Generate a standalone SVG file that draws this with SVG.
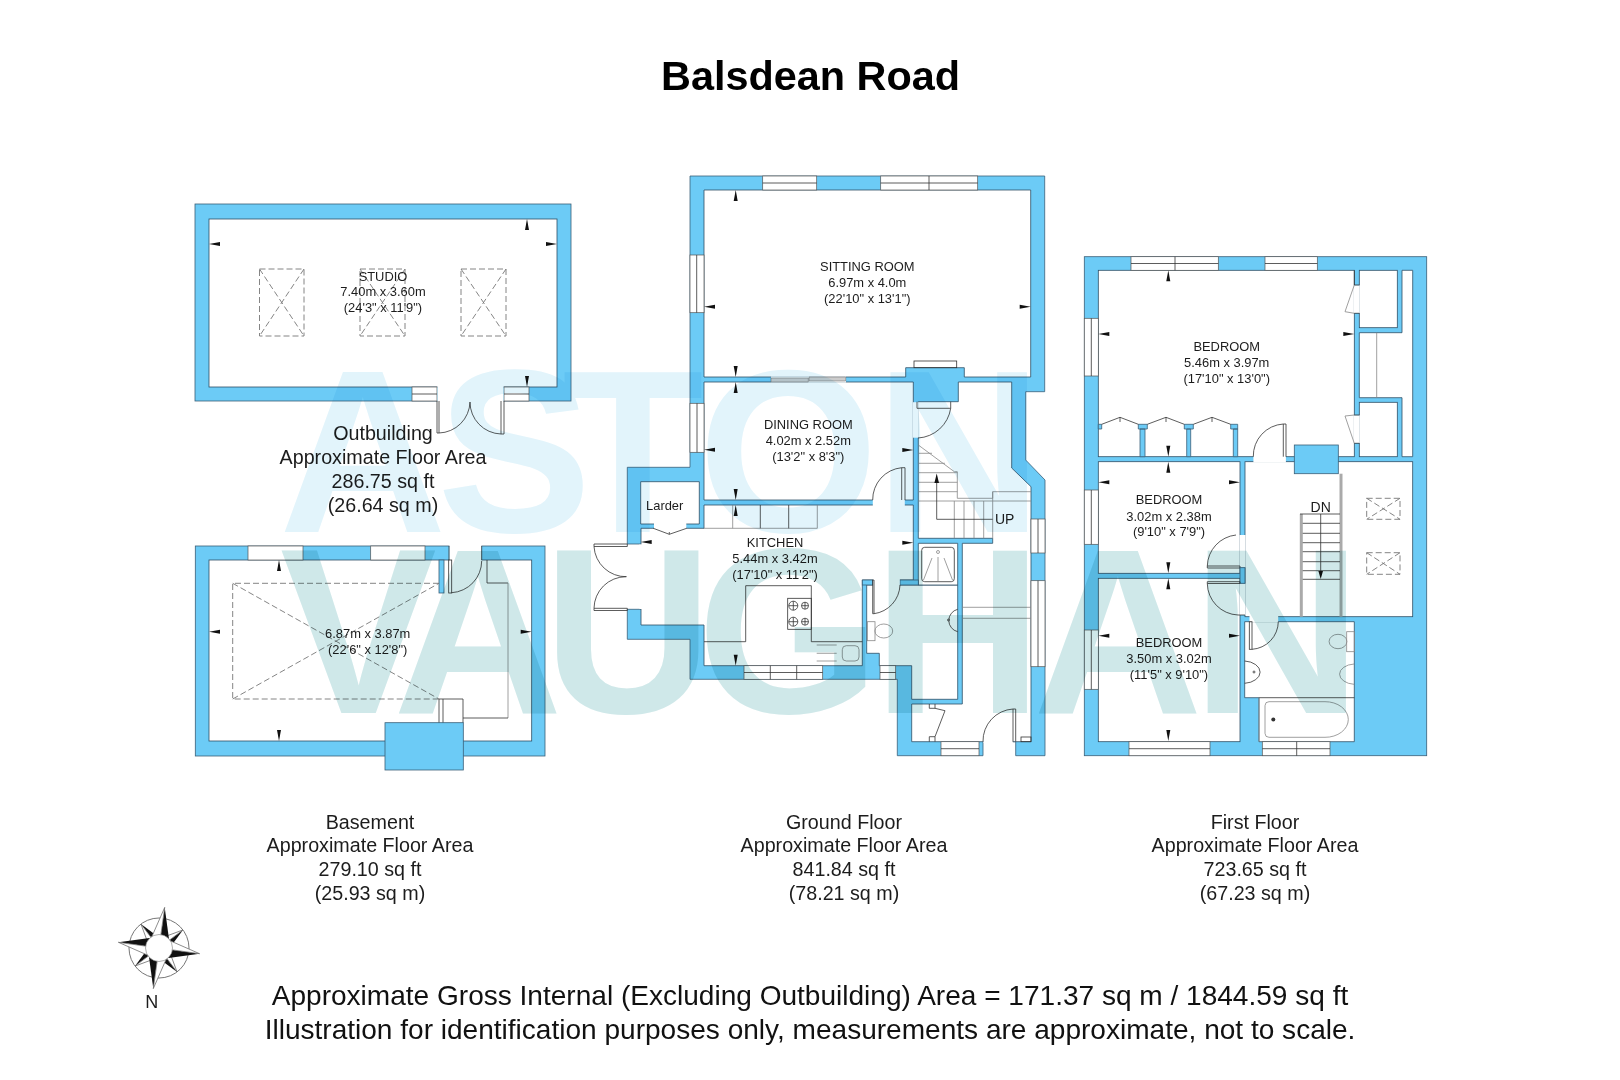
<svg xmlns="http://www.w3.org/2000/svg" width="1620" height="1080" viewBox="0 0 1620 1080">
<style>
text{font-family:"Liberation Sans",Arial,sans-serif;fill:#1c1c1c}
.wm{font-weight:bold;mix-blend-mode:multiply}
.w{fill:#6ccbf6;stroke:#3a5f78;stroke-width:.8}
.r{fill:#fff;stroke:#2f4f66;stroke-width:.8}
.o{fill:#fff;stroke:none}
.l{fill:none;stroke:#333;stroke-width:.8}
.g{fill:none;stroke:#888;stroke-width:.8}
.gb{fill:none;stroke:#aaa;stroke-width:3}
.d{fill:none;stroke:#777;stroke-width:.9;stroke-dasharray:6 3}
.win{fill:#fff;stroke:#555;stroke-width:.7}
.rm{font-size:12.9px;text-anchor:middle}
.ar{font-size:19.7px;text-anchor:middle}
.ft{font-size:28.05px;text-anchor:middle;fill:#111}
</style>
<defs>
<path id="a" d="M0 0L11-2 11 2Z" fill="#111"/>
<g id="pt"><polygon points="0,-41 9,-9 0,0" fill="#111"/><polygon points="0,-41 -9,-9 0,0" fill="#fff" stroke="#666" stroke-width=".7"/></g>
<g id="ps"><polygon points="0,-30 6,-10 0,0" fill="#111"/><polygon points="0,-30 -6,-10 0,0" fill="#fff" stroke="#666" stroke-width=".7"/></g>
</defs>
<rect width="1620" height="1080" fill="#fff"/>

<g id="outbuilding">
<rect class="w" x="195" y="204" width="376" height="197"/>
<rect class="r" x="209" y="219" width="348" height="168"/>
<rect class="win" x="412" y="387" width="25" height="14"/><path class="l" d="M412 394H437"/>
<rect class="win" x="504" y="387" width="25" height="14"/><path class="l" d="M504 394H529"/>
<rect class="o" x="437.500" y="386" width="66" height="16"/>
<path class="l" d="M437 401V433H439V401M504 401V434H501V401"/>
<path class="l" d="M439 433A32 32 0 0 0 470 402M501 434A32 32 0 0 1 470 402"/>
<path class="d" d="M259.500 269H304V336H259.500ZM259.500 269L304 336M304 269L259.500 336"/><path class="d" d="M360 269H405V336H360ZM360 269L405 336M405 269L360 336"/><path class="d" d="M461 269H506V336H461ZM461 269L506 336M506 269L461 336"/>
<use href="#a" transform="translate(209 244)"/><use href="#a" transform="translate(557 244) rotate(180)"/><use href="#a" transform="translate(527 219) rotate(90)"/><use href="#a" transform="translate(527 387) rotate(-90)"/>
<text class="rm" x="383" y="280.500">STUDIO</text><text class="rm" x="383" y="296">7.40m x 3.60m</text><text class="rm" x="383" y="312">(24'3" x 11'9")</text>
<text class="ar" x="383" y="440">Outbuilding</text><text class="ar" x="383" y="463.500">Approximate Floor Area</text><text class="ar" x="383" y="487.500">286.75 sq ft</text><text class="ar" x="383" y="511.500">(26.64 sq m)</text>
</g>

<g id="basement">
<rect class="w" x="195.300" y="546" width="349.700" height="210"/>
<rect class="r" x="209" y="560" width="322.700" height="181"/>
<rect class="o" x="449.400" y="545" width="32" height="16"/>
<path class="l" d="M449 546V560M481.700 546V560"/>
<rect class="w" x="439" y="560" width="5" height="33"/>
<rect class="win" x="248" y="546" width="55" height="14"/><rect class="win" x="370.700" y="546" width="54.300" height="14"/>
<rect class="l" x="448.700" y="560" width="3" height="33"/>
<path class="l" d="M451.700 592.700A32 32 0 0 0 481.700 561"/>
<path class="l" d="M487 560V583H508"/><path class="g" d="M508 583V718"/><path class="l" d="M508 718H463"/>
<path class="d" d="M439 583.300H232.700V699H439M232.700 583.300L439 699M232.700 699L439 583.300"/>
<path class="l" d="M439 699V723M443 699V723M439 699H463V723"/>
<rect class="w" x="385" y="722.700" width="78.300" height="47.300"/>
<use href="#a" transform="translate(279 560) rotate(90)"/><use href="#a" transform="translate(279 741) rotate(-90)"/><use href="#a" transform="translate(209 631.700)"/><use href="#a" transform="translate(531.700 631.700) rotate(180)"/>
<text class="rm" x="367.700" y="637.500">6.87m x 3.87m</text><text class="rm" x="367.700" y="653.500">(22'6" x 12'8")</text>
<text class="ar" x="370" y="828.700">Basement</text><text class="ar" x="370" y="852.300">Approximate Floor Area</text><text class="ar" x="370" y="876.300">279.10 sq ft</text><text class="ar" x="370" y="899.700">(25.93 sq m)</text>
</g>

<g id="ground-floor">
<polygon class="w" points="690,176 1044.700,176 1044.700,391.700 1025.700,391.700 1025.700,460 1045,480 1045,755.700 1015.700,755.700 1015.700,741.700 983,741.700 983,755.700 897.300,755.700 897.300,679.300 690,679.300 690,639.300 627.300,639.300 627.300,609.300 641,609.300 641,544 627.300,544 627.300,467.300 690,467.300"/>
<polygon class="r" points="704,190 1030.700,190 1030.700,377 964.300,377 964.300,367.700 905.700,367.700 905.700,377 704,377"/>
<polygon class="r" points="704,382 913.300,382 913.300,500 704,500"/>
<polygon class="r" points="918.300,401.700 958.300,401.700 958.300,382 1011.700,382 1011.700,468 1031,486.700 1031,741.700 911.700,741.700 911.700,704 962.300,704 962.300,543.300 992.700,543.300 992.700,538.300 918.300,538.300"/>
<polygon class="r" points="704,505 913.300,505 913.300,580 862.300,580 862.300,665.700 704,665.700 704,625 641,625 641,528.300 704,528.300"/>
<polygon class="r" points="640.700,481.700 699.300,481.700 699.300,524 640.700,524"/>
<polygon class="r" points="866.700,585 957.700,585 957.700,699.300 911.700,699.300 911.700,665.700 879.300,665.700 879.300,653.300 866.700,653.300"/>
<polygon class="r" points="918.300,543.300 957.700,543.300 957.700,585 918.300,585"/>
<rect class="w" x="862.300" y="580" width="10.400" height="5"/><rect class="w" x="900" y="580" width="18.300" height="5"/>
<rect class="o" x="873" y="578" width="26.800" height="8"/>
<rect class="o" x="872.800" y="499" width="32" height="7"/>
<rect class="o" x="912.800" y="402.200" width="6" height="35.500"/>
<rect class="o" x="654" y="523" width="32.300" height="6"/>
<rect class="o" x="639.500" y="544.300" width="3" height="64.700"/>
<rect class="o" x="983.400" y="740.500" width="29.400" height="2.500"/>
<rect class="o" x="771" y="376.400" width="75" height="6.200"/>
<path fill="#ccc" stroke="#777" stroke-width=".6" d="M771 378H808.300V382H771ZM809 377H845.700V381H809Z"/>
<rect class="win" x="762.700" y="176" width="54" height="14"/><path class="l" d="M762.700 183H816.700"/>
<rect class="win" x="880.700" y="176" width="97" height="14"/><path class="l" d="M880.700 183H977.700M929 176V190"/>
<rect class="win" x="690" y="255" width="14" height="57.700"/><path class="l" d="M696.700 255V312.700"/>
<rect class="win" x="690" y="403.300" width="14" height="49"/><path class="l" d="M697 403.300V452.300"/>
<rect class="win" x="1031" y="519" width="14" height="34"/><path class="l" d="M1038 519V553"/>
<rect class="win" x="1031" y="580.700" width="14" height="86"/><path class="l" d="M1038 580.700V666.700"/>
<rect class="win" x="744" y="665.700" width="78.700" height="13.600"/><path class="l" d="M744 672.500H822.700M770.300 665.700V679.300M796.700 665.700V679.300"/>
<rect class="win" x="880" y="665.700" width="15.700" height="13.600"/><path class="l" d="M880 672.500H895.700"/>
<rect class="win" x="941" y="741.700" width="38" height="14"/><path class="l" d="M941 748.700H979"/>
<rect class="l" x="914" y="361" width="42.700" height="6.700"/>
<path class="l" d="M917 401.700V408.300H950.700V401.700M950.700 408.300A35 35 0 0 1 918 438"/>
<path class="l" d="M901.700 500V467.700H905V500M901.700 467.700A32 32 0 0 0 872.700 500"/>
<path class="l" d="M872.700 580H874V613.700A30 30 0 0 0 900 585M872.700 580V613.700H874"/>
<path class="l" d="M1013 741.700V709H1015.700V741.700M1013 709A32 32 0 0 0 983 741.700"/>
<rect class="l" x="1021" y="737" width="10" height="4.700"/>
<path class="l" d="M653.300 528.300L669.300 534.300 686.700 528.300M669.300 532V534.300"/>
<path class="g" d="M704 528.300H817.300V505M732.700 505V528.300"/><path class="l" d="M760.300 505V528.300M788.700 505V528.300"/>
<path class="l" d="M594 544H627.300V546.500H594V544M594 546.500A32 32 0 0 0 626.700 576.700M594 608.300H627.300V610.500H594V608.300M594 608.300A32 32 0 0 1 626 576.700"/>
<path class="l" d="M704 641.700H745.700V585.700H811.300V641.700H862.300"/>
<rect class="l" x="787.700" y="598.300" width="23.600" height="31"/>
<path class="l" d="M788.800 605.700H797.800M793.300 601.200V610.200M801.500 605.700H808.500M805 602.200V609.200M788.800 621.700H797.800M793.300 617.200V626.200M801.500 621.700H808.500M805 618.200V625.200"/>
<circle class="l" cx="793.300" cy="605.700" r="4.500"/><circle class="l" cx="805" cy="605.700" r="3.500"/><circle class="l" cx="793.300" cy="621.700" r="4.500"/><circle class="l" cx="805" cy="621.700" r="3.500"/>
<path class="g" d="M816.700 645H836.700M816.700 653.300H836.700M816.700 661H836.700"/><rect class="g" x="842.300" y="645.700" width="16.700" height="15.300" rx="4"/>
<rect class="g" x="867.300" y="621.700" width="7.700" height="19"/><ellipse class="g" cx="883.800" cy="631" rx="8.900" ry="7"/>
<path class="l" d="M957.700 609.300A11.500 11.500 0 0 0 957.700 631.700"/><circle class="l" cx="948.500" cy="620" r="1"/>
<path class="g" d="M962.300 607.300H1031M962.300 618.300H1031"/>
<rect class="l" x="921.700" y="547.300" width="32.600" height="34.400" rx="3"/>
<path class="g" d="M938 557V581M932 558L923.500 580M944 558L952.500 580"/><circle class="g" cx="938" cy="552" r="1.500"/>
<path class="l" d="M929.300 704V708.300H935V704M935 708.300L945 710.700 935 736.700M929.300 741.700V736.700H935V741.700"/>
<path class="g" d="M918.300 445L954.300 471.700H957.300V498.300H992.700V491.700H1031M992.700 501H1031M992.700 491.700V538.300"/>
<path class="g" d="M918.300 453.300H932M918.300 463.300H945M918.300 472.700H957.300M918.300 482.300H957.300M918.300 491.700H957.300M918.300 501H992.700M954.300 501V538.300M964 501V538.300M974 501V538.300M983.700 501V538.300"/>
<path class="l" d="M992.700 519.300H936.700V480"/><path d="M936.700 473.500L939 483H934.400Z" fill="#111"/>
<use href="#a" transform="translate(735.700 190) rotate(90)"/><use href="#a" transform="translate(735.700 377) rotate(-90)"/><use href="#a" transform="translate(704 306.700)"/><use href="#a" transform="translate(1030.700 306.700) rotate(180)"/>
<use href="#a" transform="translate(735.700 382) rotate(90)"/><use href="#a" transform="translate(735.700 500) rotate(-90)"/><use href="#a" transform="translate(704 449.700)"/><use href="#a" transform="translate(913.300 450) rotate(180)"/>
<use href="#a" transform="translate(735.700 505) rotate(90)"/><use href="#a" transform="translate(735.700 665.700) rotate(-90)"/><use href="#a" transform="translate(640.700 542)"/><use href="#a" transform="translate(913.300 542.700) rotate(180)"/>
<text class="rm" x="867.300" y="271.300">SITTING ROOM</text><text class="rm" x="867.300" y="287">6.97m x 4.0m</text><text class="rm" x="867.300" y="303">(22'10" x 13'1")</text>
<text class="rm" x="808.300" y="429">DINING ROOM</text><text class="rm" x="808.300" y="444.700">4.02m x 2.52m</text><text class="rm" x="808.300" y="460.700">(13'2" x 8'3")</text>
<text class="rm" x="775" y="547">KITCHEN</text><text class="rm" x="775" y="562.700">5.44m x 3.42m</text><text class="rm" x="775" y="578.500">(17'10" x 11'2")</text>
<text class="rm" x="664.700" y="509.500">Larder</text>
<text x="995" y="524.300" font-size="14">UP</text>
<text class="ar" x="844" y="828.700">Ground Floor</text><text class="ar" x="844" y="852.300">Approximate Floor Area</text><text class="ar" x="844" y="876.300">841.84 sq ft</text><text class="ar" x="844" y="899.700">(78.21 sq m)</text>
</g>

<g id="first-floor">
<rect class="w" x="1084.300" y="256.700" width="342.400" height="499"/>
<rect class="r" x="1098.300" y="270.300" width="256" height="186.400"/>
<rect class="r" x="1359.300" y="270.300" width="38" height="57.400"/>
<rect class="r" x="1359.300" y="402.300" width="38" height="54.400"/>
<polygon class="r" points="1402,270.300 1412.700,270.300 1412.700,456.700 1402,456.700 1402,397.700 1359.300,397.700 1359.300,332.700 1402,332.700"/>
<path class="g" d="M1376.700 332.700V397.700" stroke-width="1.500"/>
<rect class="r" x="1098.300" y="461.700" width="141.700" height="111.600"/>
<rect class="r" x="1098.300" y="578.300" width="141.700" height="163.400"/>
<rect class="r" x="1245" y="461.700" width="167.700" height="155"/>
<polygon class="r" points="1244.700,621.700 1354.300,621.700 1354.300,741.700 1259,741.700 1259,697.700 1244.700,697.700"/>
<path class="l" d="M1259 697.700H1354.300"/>
<rect class="o" x="1253.400" y="456" width="32.500" height="6.400"/>
<rect class="o" x="1239.500" y="535" width="6" height="32.500"/>
<rect class="o" x="1239.500" y="583.500" width="6" height="31.500"/>
<rect class="o" x="1249.500" y="616" width="28.700" height="6.200"/>
<rect class="o" x="1353.800" y="285.300" width="6" height="27.700"/>
<rect class="o" x="1353.800" y="415.300" width="6" height="27.700"/>
<path class="l" d="M1354.300 270.300V285H1359.300M1354.300 313.300H1359.300M1354.300 415H1359.300M1354.300 443.300H1359.300"/>
<path class="g" d="M1354.300 285L1345 311.700 1354.300 313.300M1354.300 443.300L1345 416 1354.300 415"/>
<path class="w" d="M1140 429H1145V456.700H1140ZM1138.300 424.300H1147.300V429H1138.300ZM1186.700 429H1190.700V456.700H1186.700ZM1184.300 424.300H1193.300V429H1184.300ZM1233.300 429H1237.700V456.700H1233.300ZM1230.700 424.300H1237.700V429H1230.700ZM1098.300 424.300H1101.700V429H1098.300Z"/>
<path class="l" d="M1101.700 424.300L1120 417.300 1138.300 424.300M1120 417.300V422M1147.300 424.300L1166 417.300 1184.300 424.300M1166 417.300V422M1193.300 424.300L1212 417.300 1230.700 424.300M1212 417.300V422"/>
<path class="l" d="M1286 456.700V424H1283.300V456.700M1283.300 424A32 32 0 0 0 1253.300 456.700"/>
<rect class="w" x="1294.300" y="445" width="44" height="28.700"/>
<path class="gb" d="M1341 473.700V616.700"/><path class="gb" d="M1301.300 514V616.700" stroke-width="2.500"/>
<path class="l" d="M1300 514H1340M1302.700 523.300H1340M1302.700 533.300H1340M1302.700 542.700H1340M1302.700 551.700H1340M1302.700 561.700H1340M1302.700 570.700H1340M1302.700 579.300H1340M1320.700 514V572"/><path d="M1320.700 579L1318.400 571H1323Z" fill="#111"/>
<text x="1320.700" y="511.700" font-size="14" text-anchor="middle">DN</text>
<path class="d" stroke-dasharray="4 2" d="M1366.700 498.300H1400V519.300H1366.700ZM1366.700 498.300L1400 519.300M1400 498.300L1366.700 519.300"/>
<path class="d" stroke-dasharray="4 2" d="M1366.700 552.700H1400V574.300H1366.700ZM1366.700 552.700L1400 574.300M1400 552.700L1366.700 574.300"/>
<path class="l" d="M1236 535A32 32 0 0 0 1207.300 566H1240V568H1207.300V566"/>
<rect class="w" x="1240" y="567.700" width="5" height="15.600"/>
<path class="l" d="M1207.300 581.700H1240V583.500H1207.300V581.700M1207.300 583.500A32 32 0 0 0 1238 615H1245"/>
<rect class="l" x="1249.300" y="621.700" width="2.700" height="27.600"/>
<path class="l" d="M1252 649.300A28 28 0 0 0 1278.300 621.700"/>
<rect class="win" x="1131" y="256.700" width="87.300" height="13.600"/><path class="l" d="M1131 263.500H1218.300M1175 256.700V270.300"/>
<rect class="win" x="1265" y="256.700" width="52.300" height="13.600"/><path class="l" d="M1265 263.500H1317.300"/>
<rect class="win" x="1084.300" y="318.300" width="14" height="57.700"/><path class="l" d="M1091.300 318.300V376"/>
<rect class="win" x="1084.300" y="490" width="14" height="54.300"/><path class="l" d="M1091.300 490V544.300"/>
<rect class="win" x="1084.300" y="630" width="14" height="59.300"/><path class="l" d="M1091.300 630V689.300"/>
<rect class="win" x="1129" y="741.700" width="81" height="14"/><path class="l" d="M1129 748.700H1210"/>
<rect class="win" x="1262.300" y="741.700" width="67.700" height="14"/><path class="l" d="M1262.300 748.700H1330M1296.700 741.700V755.700"/>
<path class="g" d="M1269 701.700H1325A23 17.800 0 0 1 1348.300 719.500A23 17.800 0 0 1 1325 737.300H1269A4 4 0 0 1 1265 733.300V705.700A4 4 0 0 1 1269 701.700Z"/>
<path class="g" d="M1259 697.700V741.700"/>
<circle cx="1273.300" cy="719.500" r="2" fill="#333"/>
<rect class="g" x="1346.700" y="631.700" width="7.600" height="20"/><ellipse class="g" cx="1338" cy="641.500" rx="8.900" ry="7.200"/>
<path class="g" d="M1354 664A16 10.200 0 0 0 1354 684.300"/>
<path class="l" d="M1244.700 661A17 11.200 0 0 1 1244.700 683.300"/><circle class="l" cx="1254" cy="672" r="1"/>
<use href="#a" transform="translate(1168.300 270.300) rotate(90)"/><use href="#a" transform="translate(1168.300 456.700) rotate(-90)"/><use href="#a" transform="translate(1098.300 334)"/><use href="#a" transform="translate(1354.300 334) rotate(180)"/>
<use href="#a" transform="translate(1168.300 461.700) rotate(90)"/><use href="#a" transform="translate(1168.300 573.300) rotate(-90)"/><use href="#a" transform="translate(1098.300 482.300)"/><use href="#a" transform="translate(1240 482.300) rotate(180)"/>
<use href="#a" transform="translate(1168.300 578.300) rotate(90)"/><use href="#a" transform="translate(1168.300 741) rotate(-90)"/><use href="#a" transform="translate(1098.300 635.700)"/><use href="#a" transform="translate(1240 635.700) rotate(180)"/>
<text class="rm" x="1226.700" y="351.300">BEDROOM</text><text class="rm" x="1226.700" y="367">5.46m x 3.97m</text><text class="rm" x="1226.700" y="383">(17'10" x 13'0")</text>
<text class="rm" x="1169" y="504.300">BEDROOM</text><text class="rm" x="1169" y="520.600">3.02m x 2.38m</text><text class="rm" x="1169" y="536.300">(9'10" x 7'9")</text>
<text class="rm" x="1169" y="646.800">BEDROOM</text><text class="rm" x="1169" y="663.200">3.50m x 3.02m</text><text class="rm" x="1169" y="679.200">(11'5" x 9'10")</text>
<text class="ar" x="1255" y="828.700">First Floor</text><text class="ar" x="1255" y="852.300">Approximate Floor Area</text><text class="ar" x="1255" y="876.300">723.65 sq ft</text><text class="ar" x="1255" y="899.700">(67.23 sq m)</text>
</g>

<g id="watermark">
<text class="wm" font-size="232" y="532" x="279 437 562 698 875" style="fill:#e2f4fb">ASTON</text>
<text class="wm" font-size="235" y="713" x="280 393 543 697 873 1033 1192" style="fill:#cfe8e9">VAUGHAN</text>
</g>

<g id="compass">
<circle cx="159" cy="948" r="30" fill="none" stroke="#777" stroke-width="1"/>
<g transform="translate(159 948)">
<use href="#ps" transform="rotate(-37)"/><use href="#ps" transform="rotate(53)"/><use href="#ps" transform="rotate(143)"/><use href="#ps" transform="rotate(233)"/>
<use href="#pt" transform="rotate(8)"/><use href="#pt" transform="rotate(98)"/><use href="#pt" transform="rotate(188)"/><use href="#pt" transform="rotate(278)"/>
<circle r="13.500" fill="#fff" stroke="#777" stroke-width=".6"/>
</g>
<text x="151.700" y="1008" font-size="18" text-anchor="middle">N</text>
</g>

<text id="title" x="810.500" y="90" font-size="41.400" font-weight="bold" text-anchor="middle" style="fill:#000">Balsdean Road</text>
<text class="ft" x="810" y="1005">Approximate Gross Internal (Excluding Outbuilding) Area = 171.37 sq m / 1844.59 sq ft</text>
<text class="ft" x="810" y="1039">Illustration for identification purposes only, measurements are approximate, not to scale.</text>
</svg>
